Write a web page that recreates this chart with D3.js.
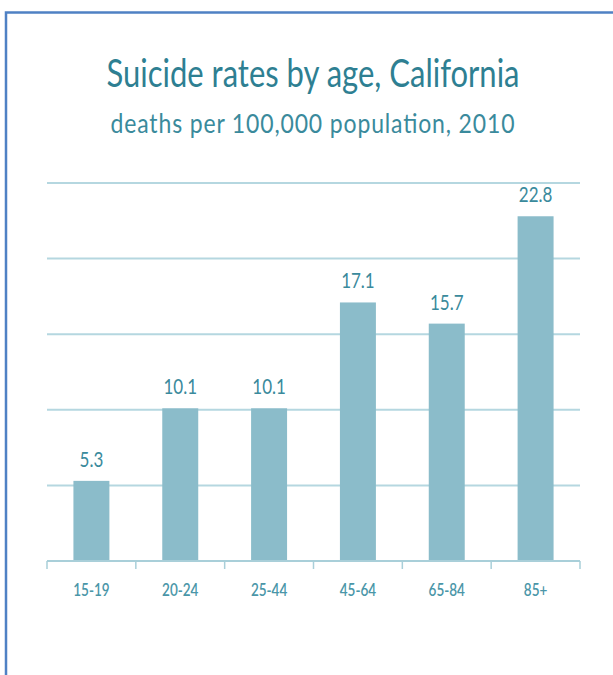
<!DOCTYPE html>
<html>
<head>
<meta charset="utf-8">
<script src="https://cdn.jsdelivr.net/npm/d3@7"></script>
<style>
  html, body { margin: 0; padding: 0; background: #fff; }
  svg { display: block; }
  text { font-family: Lato, "Open Sans", sans-serif; }
</style>
</head>
<body>
<svg id="chart" width="613" height="675"></svg>
<script>
const categories = ["15-19", "20-24", "25-44", "45-64", "65-84", "85+"];
const values = [5.3, 10.1, 10.1, 17.1, 15.7, 22.8];
const valueLabels = ["5.3", "10.1", "10.1", "17.1", "15.7", "22.8"];
const gridTicks = [5, 10, 15, 20, 25];
const title = "Suicide rates by age, California";
const subtitle = "deaths per 100,000 population, 2010";

const svg = d3.select("#chart");
const plotLeft = 47, plotRight = 580, plotTop = 183, plotBottom = 561;
const sy = 1.25;

// frame
svg.append("rect")
  .attr("x", 6).attr("y", 12.5).attr("width", 800).attr("height", 800)
  .attr("fill", "none").attr("stroke", "#4f81c4").attr("stroke-width", 2.5);

const x = d3.scaleBand().domain(categories).range([plotLeft, plotRight])
  .paddingInner(0.595).paddingOuter(0.2975);
const y = d3.scaleLinear().domain([0, 25]).range([plotBottom, plotTop]);

function stretchedText(g, tx, ty, str, size, color, scaleY) {
  return g.append("g").attr("transform", `translate(${tx},${ty}) scale(1,${scaleY || sy})`)
    .append("text").attr("text-anchor", "middle")
    .attr("font-size", size).attr("fill", color).text(str);
}

// titles
stretchedText(svg, 313, 87, title, 31, "#2e7f92");
stretchedText(svg, 312.5, 133, subtitle, 23, "#3a8a9c", 1.2)
  .attr("textLength", 404).attr("lengthAdjust", "spacing");

// gridlines
svg.append("g").selectAll("line").data(gridTicks).join("line")
  .attr("x1", plotLeft).attr("x2", plotRight)
  .attr("y1", d => y(d)).attr("y2", d => y(d))
  .attr("stroke", "#b5d7e0").attr("stroke-width", 2);

// bars
svg.append("g").selectAll("rect").data(values).join("rect")
  .attr("x", (d, i) => x(categories[i]))
  .attr("y", d => y(d))
  .attr("width", x.bandwidth())
  .attr("height", d => y(0) - y(d))
  .attr("fill", "#8bbcca");

// x axis baseline and ticks
const step = x.step();
const axisG = svg.append("g");
axisG.append("line").attr("x1", plotLeft).attr("x2", plotRight)
  .attr("y1", plotBottom).attr("y2", plotBottom)
  .attr("stroke", "#a9cfd9").attr("stroke-width", 2);
axisG.selectAll("line.tick").data(d3.range(categories.length + 1)).join("line")
  .attr("class", "tick")
  .attr("x1", i => plotLeft + i * step).attr("x2", i => plotLeft + i * step)
  .attr("y1", plotBottom).attr("y2", plotBottom + 8)
  .attr("stroke", "#a9cfd9").attr("stroke-width", 1.5);

// category labels
categories.forEach((c, i) => {
  stretchedText(svg, x(c) + x.bandwidth() / 2, 596, c, 13.5, "#4a96a8")
    .attr("font-weight", 600);
});

// value labels
values.forEach((v, i) => {
  stretchedText(svg, x(categories[i]) + x.bandwidth() / 2, y(v) - 14, valueLabels[i], 17, "#3a8a9c");
});
</script>
</body>
</html>
